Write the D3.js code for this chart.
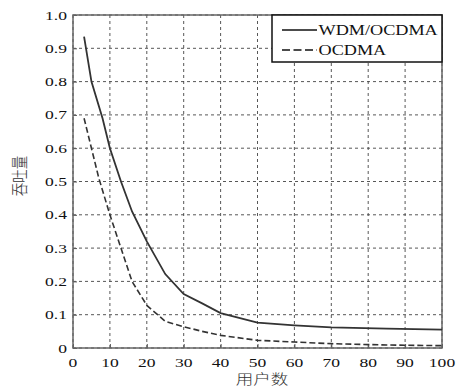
<!DOCTYPE html>
<html>
<head>
<meta charset="utf-8">
<script src="https://cdn.jsdelivr.net/npm/d3@7"></script>
<style>
  body { margin: 0; background: #fff; }
  text { font-family: "Liberation Serif", "Times New Roman", serif; fill: #111; }
  .cjk { font-family: "Noto Sans CJK SC", sans-serif; font-weight: 300; fill: #333; }
</style>
</head>
<body>
<div id="chart"></div>
<script>
var width = 460;
var height = 392;
var margin = {left: 73, right: 18, top: 15, bottom: 44};

// data
var usersWdm = [3, 5, 8, 10, 13, 16, 20, 25, 30, 35, 40, 50, 60, 70, 85, 100];
var throughputWdm = [0.935, 0.80, 0.69, 0.60, 0.50, 0.41, 0.32, 0.222, 0.162, 0.134, 0.105, 0.076, 0.068, 0.062, 0.058, 0.055];
var usersOcdma = [3, 5, 7, 10, 13, 16, 20, 25, 30, 35, 40, 50, 60, 70, 85, 100];
var throughputOcdma = [0.69, 0.60, 0.51, 0.40, 0.30, 0.20, 0.128, 0.08, 0.064, 0.05, 0.038, 0.023, 0.018, 0.013, 0.009, 0.007];
var xTicks = [0, 10, 20, 30, 40, 50, 60, 70, 80, 90, 100];
var yTicks = [0, 0.1, 0.2, 0.3, 0.4, 0.5, 0.6, 0.7, 0.8, 0.9, 1.0];
var seriesNames = ["WDM/OCDMA", "OCDMA"];
var xTitle = "用户数";
var yTitle = "吞吐量";

// the source picture is stretched sideways, so text gets the same stretch
var stretch = 1.3;

var x = d3.scaleLinear().domain([0, 100]).range([margin.left, width - margin.right]);
var y = d3.scaleLinear().domain([0, 1]).range([height - margin.bottom, margin.top]);

var svg = d3.select("#chart").append("svg")
  .attr("width", width)
  .attr("height", height);

function placeText(sel, px, py, rot) {
  sel.attr("transform", "translate(" + px + "," + py + ") scale(" + stretch + ",1)" + (rot ? " rotate(" + rot + ")" : ""));
}

//grid
svg.append("g").selectAll("line")
  .data(xTicks)
  .join("line")
    .attr("x1", d => x(d)).attr("x2", d => x(d))
    .attr("y1", y(0)).attr("y2", y(1))
    .attr("stroke", "#444")
    .attr("stroke-width", 0.9)
    .attr("stroke-dasharray", "3,3");

svg.append("g").selectAll("line")
  .data(yTicks)
  .join("line")
    .attr("x1", x(0)).attr("x2", x(100))
    .attr("y1", d => y(d)).attr("y2", d => y(d))
    .attr("stroke", "#444")
    .attr("stroke-width", 0.9)
    .attr("stroke-dasharray", "3,3");

// axes with inward ticks
svg.append("g")
  .attr("transform", "translate(0," + y(0) + ")")
  .call(d3.axisBottom(x).tickValues(xTicks).tickSizeInner(-4).tickSizeOuter(0).tickFormat(""));
svg.append("g")
  .attr("transform", "translate(" + x(0) + ",0)")
  .call(d3.axisLeft(y).tickValues(yTicks).tickSizeInner(-4).tickSizeOuter(0).tickFormat(""));
svg.selectAll(".domain").remove();
svg.selectAll(".tick line").attr("stroke", "#555");

// box
svg.append("rect")
  .attr("x", x(0)).attr("y", y(1))
  .attr("width", x(100) - x(0)).attr("height", y(0) - y(1))
  .attr("fill", "none")
  .attr("stroke", "#666")
  .attr("stroke-width", 1.5);

// tick labels
svg.append("g").selectAll("text")
  .data(xTicks)
  .join("text")
    .attr("text-anchor", "middle")
    .attr("font-size", 13.5)
    .text(d => d)
    .each(function(d) { placeText(d3.select(this), x(d), 366.5); });

svg.append("g").selectAll("text")
  .data(yTicks)
  .join("text")
    .attr("text-anchor", "end")
    .attr("dy", "0.34em")
    .attr("font-size", 13.5)
    .text(d => d === 0 ? "0" : d3.format(".1f")(d))
    .each(function(d) { placeText(d3.select(this), 67, y(d)); });

// axis titles
svg.append("text")
  .attr("class", "cjk")
  .attr("text-anchor", "middle")
  .attr("font-size", 13.5)
  .text(xTitle)
  .call(placeText, 262, 384);

svg.append("text")
  .attr("class", "cjk")
  .attr("text-anchor", "middle")
  .attr("font-size", 13.5)
  .text(yTitle)
  .call(placeText, 26, 176, -90);

// curves
var line = d3.line().x(d => x(d[0])).y(d => y(d[1]));

svg.append("path")
  .datum(d3.zip(usersWdm, throughputWdm))
  .attr("d", line)
  .attr("fill", "none")
  .attr("stroke", "#333")
  .attr("stroke-width", 1.8);

svg.append("path")
  .datum(d3.zip(usersOcdma, throughputOcdma))
  .attr("d", line)
  .attr("fill", "none")
  .attr("stroke", "#333")
  .attr("stroke-width", 1.6)
  .attr("stroke-dasharray", "6,3");

// legend
var legend = svg.append("g");
legend.append("rect")
  .attr("x", 272).attr("y", y(1))
  .attr("width", x(100) - 272).attr("height", 47)
  .attr("fill", "#fff")
  .attr("stroke", "#111")
  .attr("stroke-width", 1.5);

legend.selectAll("line")
  .data(seriesNames)
  .join("line")
    .attr("x1", 282).attr("x2", 317)
    .attr("y1", (d, i) => 30 + i * 20).attr("y2", (d, i) => 30 + i * 20)
    .attr("stroke", "#111")
    .attr("stroke-width", 1.5)
    .attr("stroke-dasharray", (d, i) => i ? "8,3.5" : null);

legend.selectAll("text")
  .data(seriesNames)
  .join("text")
    .attr("font-size", 14)
    .text(d => d)
    .each(function(d, i) { placeText(d3.select(this), 318.5, 35 + i * 20); });
</script>
</body>
</html>
